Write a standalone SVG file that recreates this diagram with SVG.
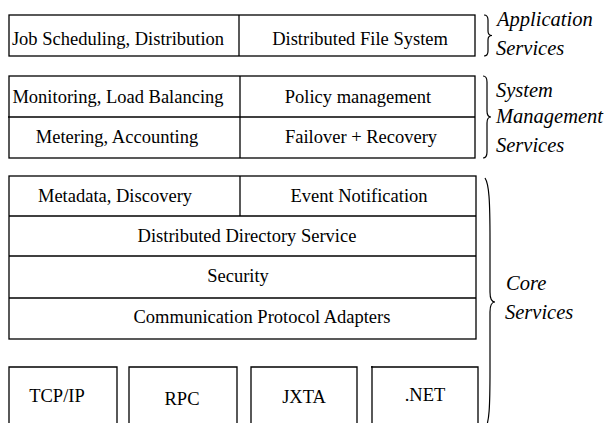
<svg xmlns="http://www.w3.org/2000/svg" width="607" height="423" viewBox="0 0 607 423">
<style>
.b{fill:none;stroke:#000;stroke-width:1.3}
.t{font-family:"Liberation Serif","Times New Roman",serif;font-size:18.5px;fill:#000;text-anchor:middle}
.l{font-family:"Liberation Serif","Times New Roman",serif;font-size:20.5px;font-style:italic;fill:#000}
.br{fill:none;stroke:#000;stroke-width:1.2}
</style>
<rect width="607" height="423" fill="#fff"/>
<g id="app-services">
<rect class="b" x="9" y="15" width="466" height="41"/>
<line class="b" x1="239" y1="15" x2="239" y2="56"/>
<g id="job-scheduling"><text class="t" x="118" y="45">Job Scheduling, Distribution</text></g>
<g id="dfs"><text class="t" x="360" y="45">Distributed File System</text></g>
</g>
<g id="sys-services">
<rect class="b" x="9" y="76" width="466" height="82"/>
<line class="b" x1="8" y1="117" x2="475" y2="117"/>
<line class="b" x1="240" y1="76" x2="240" y2="158"/>
<g id="monitoring"><text class="t" x="118" y="103">Monitoring, Load Balancing</text></g>
<g id="policy"><text class="t" x="358" y="103">Policy management</text></g>
<g id="metering"><text class="t" x="117" y="143">Metering, Accounting</text></g>
<g id="failover"><text class="t" x="361" y="143">Failover + Recovery</text></g>
</g>
<g id="core-services">
<rect class="b" x="9" y="176" width="467" height="163"/>
<line class="b" x1="9" y1="216" x2="476" y2="216"/>
<line class="b" x1="9" y1="256" x2="476" y2="256"/>
<line class="b" x1="9" y1="298" x2="476" y2="298"/>
<line class="b" x1="240" y1="176" x2="240" y2="216"/>
<g id="metadata"><text class="t" x="115" y="202">Metadata, Discovery</text></g>
<g id="event"><text class="t" x="359" y="202">Event Notification</text></g>
<g id="directory"><text class="t" x="247" y="242">Distributed Directory Service</text></g>
<g id="security"><text class="t" x="238" y="282">Security</text></g>
<g id="comm"><text class="t" x="262" y="323">Communication Protocol Adapters</text></g>
</g>
<g id="tcpip"><path class="b" d="M9 430 V367 H117 V430"/><text class="t" x="57" y="402">TCP/IP</text></g>
<g id="rpc"><path class="b" d="M129 430 V367 H237 V430"/><text class="t" x="182" y="405">RPC</text></g>
<g id="jxta"><path class="b" d="M251 430 V367 H357 V430"/><text class="t" x="304" y="403">JXTA</text></g>
<g id="dotnet"><path class="b" d="M372 430 V366 M371 367 H478 V430"/><text class="t" x="425" y="401">.NET</text></g>
<g id="connectors">
<path class="br" d="M484 15 Q488 15 488 20 L488 31 Q488 35.5 492 35.5 Q488 35.5 488 40 L488 51 Q488 56 484 56"/>
<path class="br" d="M483 76 Q487 76 487 82 L487 111 Q487 117 491 117 Q487 117 487 123 L487 152 Q487 158 483 158"/>
<path class="br" d="M485 178 C489 184 490 200 490 240 L490 292 Q490 302 495 302 Q490 302 490 312 L490 370 C490 410 489 420 486 428"/>
</g>
<g id="labels">
<text class="l" x="497" y="26">Application</text>
<text class="l" x="496" y="55">Services</text>
<text class="l" x="496" y="97">System</text>
<text class="l" x="496" y="123">Management</text>
<text class="l" x="496" y="152">Services</text>
<text class="l" x="506" y="290">Core</text>
<text class="l" x="505" y="319">Services</text>
</g>
</svg>
